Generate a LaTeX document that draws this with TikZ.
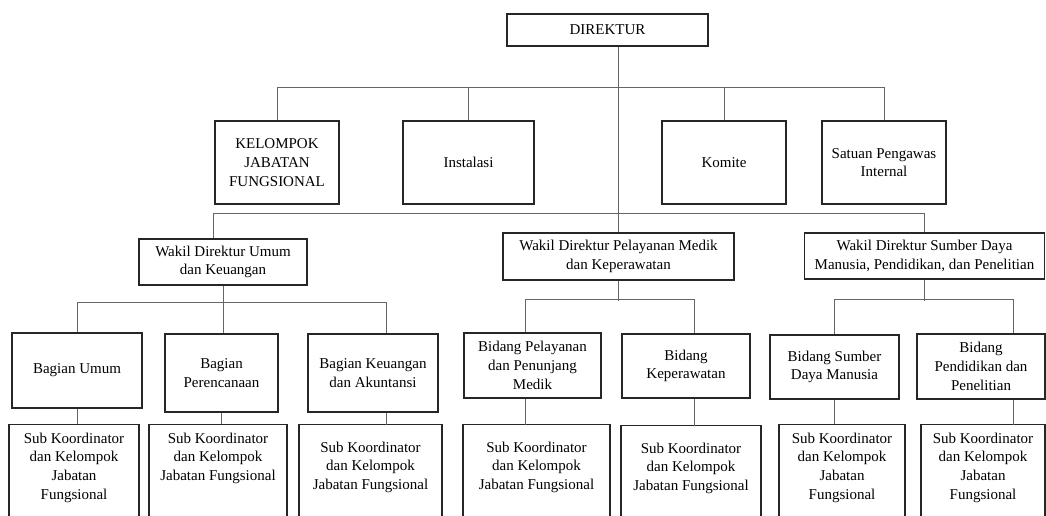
\documentclass[tikz,border=0pt]{standalone}
\usepackage{fontspec}
\setmainfont{Liberation Serif}
\usetikzlibrary{calc}
\tikzset{
box/.style={rectangle,draw=black!85,line width=1.1pt,align=center,inner sep=2pt,
  font=\fontsize{12}{15}\selectfont},
sz/.style 2 args={minimum width=#1*0.8pt,minimum height=#2*0.8pt},
sub/.style={box,anchor=north,text depth=80pt,inner ysep=#1},
sub/.default=6.4pt,
link/.style={draw=black!60,line width=0.75pt},
}
\begin{document}
\begin{tikzpicture}[x=0.8pt,y=-0.8pt]
\useasboundingbox (0,0) rectangle (1046,516);
\clip (0,0) rectangle (1046,516);
\fill[white] (0,0) rectangle (1046,516);

\node[box,sz={201}{32}] (dir) at (607.5,30) {DIREKTUR};

\node[box,sz={124}{83}] (kjf) at (277,162.5) {KELOMPOK\\JABATAN\\FUNGSIONAL};
\node[box,sz={131}{83}] (ins) at (468.5,162.5) {Instalasi};
\node[box,sz={124}{83}] (kom) at (724,162.5) {Komite};
\node[box,sz={124}{83}] (spi) at (884,162.5) {Satuan Pengawas\\Internal};

\node[box,sz={168}{46}] (wu) at (223,262) {Wakil Direktur Umum\\dan Keuangan};
\node[box,sz={231}{47}] (wp) at (618.5,256.5) {Wakil Direktur Pelayanan Medik\\dan Keperawatan};
\node[box,sz={240}{46}] (ws) at (924.5,256) {Wakil Direktur Sumber Daya\\Manusia, Pendidikan, dan Penelitian};

\node[box,sz={130}{75}] (bu) at (77,370.5) {Bagian Umum};
\node[box,sz={113}{78}] (bp) at (221.5,373) {Bagian\\Perencanaan};
\node[box,sz={130}{78}] (bk) at (373,373) {Bagian Keuangan\\dan Akuntansi};
\node[box,sz={137}{65}] (bpl) at (532.5,365.5) {Bidang Pelayanan\\dan Penunjang\\Medik};
\node[box,sz={128}{64}] (bkp) at (686,366) {Bidang\\Keperawatan};
\node[box,sz={129}{64}] (bsd) at (834.5,367) {Bidang Sumber\\Daya Manusia};
\node[box,sz={128}{65}] (bpd) at (981,366.5) {Bidang\\Pendidikan dan\\Penelitian};

\node[sub,sz={130}{0}] (s1) at (74,424) {Sub Koordinator\\dan Kelompok\\Jabatan\\Fungsional};
\node[sub,sz={138}{0}] (s2) at (218,424) {Sub Koordinator\\dan Kelompok\\Jabatan Fungsional};
\node[sub=13.6pt,sz={143}{0}] (s3) at (370.5,424) {Sub Koordinator\\dan Kelompok\\Jabatan Fungsional};
\node[sub=13.6pt,sz={147}{0}] (s4) at (536.5,424) {Sub Koordinator\\dan Kelompok\\Jabatan Fungsional};
\node[sub=13.6pt,sz={140}{0}] (s5) at (691,425) {Sub Koordinator\\dan Kelompok\\Jabatan Fungsional};
\node[sub,sz={126}{0}] (s6) at (842,424) {Sub Koordinator\\dan Kelompok\\Jabatan\\Fungsional};
\node[sub,sz={124}{0}] (s7) at (983,424) {Sub Koordinator\\dan Kelompok\\Jabatan\\Fungsional};

\draw[link] (wp.north) -- (wp.north |- dir.south);
\draw[link] (kjf.north) -- ++(0,-33) -| (spi.north);
\draw[link] (ins.north) -- ++(0,-33);
\draw[link] (kom.north) -- ++(0,-33);
\draw[link] ($(wu.north)+(-10,0)$) -- ++(0,-25) -| (ws.north);

\draw[link] (bu.north) -- ++(0,-30) -| ($(bk.north)+(13,0)$);
\draw[link] (wu.south) -- (wu.south |- bp.north);
\draw[link] ($(bpl.north)+(-7,0)$) -- ++(0,-33) -| ($(bkp.north)+(8,0)$);
\draw[link] (wp.south) -- ++(0,20);
\draw[link] (bsd.north) -- ++(0,-35) -| ($(bpd.north)+(32,0)$);
\draw[link] (ws.south) -- ++(0,21);

\draw[link] (bu.south) -- (bu.south |- s1.north);
\draw[link] (bp.south) -- (bp.south |- s2.north);
\draw[link] ($(bk.south)+(13,0)$) -- ++(0,12);
\draw[link] ($(bpl.south)+(-7,0)$) -- ++(0,26);
\draw[link] ($(bkp.south)+(8,0)$) -- ++(0,27);
\draw[link] (bsd.south) -- (bsd.south |- s6.north);
\draw[link] ($(bpd.south)+(32,0)$) -- ++(0,25);
\end{tikzpicture}
\end{document}
